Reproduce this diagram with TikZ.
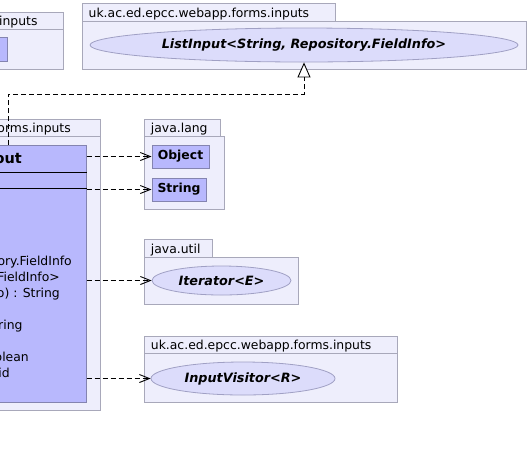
\documentclass[tikz,border=0pt]{standalone}
\usepackage{fontspec}
\setmainfont{DejaVu Sans}
\usetikzlibrary{arrows.meta,shapes.geometric}
\definecolor{pkgfill}{HTML}{EEEEFC}
\definecolor{pkgdraw}{HTML}{A8A8BA}
\definecolor{classfill}{HTML}{B8B8FD}
\definecolor{classdraw}{HTML}{8484B0}
\definecolor{ellfill}{HTML}{DCDCFB}
\definecolor{elldraw}{HTML}{A0A0C4}
\begin{document}
\begin{tikzpicture}[x=1pt,y=-1pt,
  font=\fontsize{12.4}{14}\selectfont,
  pkg/.style={fill=pkgfill,draw=pkgdraw,line width=1pt},
  cls/.style={rectangle,fill=classfill,draw=classdraw,line width=1pt,inner sep=0,
    font=\fontsize{12.4}{14}\selectfont\bfseries},
  iface/.style={ellipse,fill=ellfill,draw=elldraw,line width=0.8pt,inner sep=0,
    font=\fontsize{12.8}{14}\selectfont\bfseries\itshape},
  lbl/.style={inner sep=0,anchor=base west},
  rlbl/.style={inner sep=0,anchor=base east},
  dep/.style={draw=black,line width=0.9pt,dash pattern=on 5pt off 3pt,
    -{Straight Barb[length=10pt,width=8pt,line width=0.9pt]}},
  real/.style={draw=black,line width=0.9pt,dash pattern=on 5pt off 3pt,
    -{Triangle[length=15pt,width=13pt,fill=white,line width=0.9pt]}}]
\useasboundingbox (0,0) rectangle (529,448);
\clip (0,0) rectangle (529,448);
\fill[white] (0,0) rectangle (529,448);

% top-left package (clipped)
\draw[pkg] (-60,12) rectangle (63,29);
\draw[pkg] (-60,29) rectangle (63,69);
\node[rlbl] (pkgA) at (37.7,25) {inputs};
\node[cls,minimum width=67pt,minimum height=24pt] (boxA) at (-26.5,49) {};

% top-right package
\draw[pkg] (82,3) rectangle (335,21);
\draw[pkg] (82,21) rectangle (526,69);
\node[lbl] (pkgB) at (88.5,17) {uk.ac.ed.epcc.webapp.forms.inputs};
\node[iface,minimum width=428pt,minimum height=34pt] (list) at (304,45)
  {ListInput<String, Repository.FieldInfo>};

% main package (clipped)
\draw[pkg] (-60,119) rectangle (100,136);
\draw[pkg] (-60,136) rectangle (100,410);
\node[rlbl] (pkgM) at (71,132) {orms.inputs};
\node[cls,minimum width=206pt,minimum height=257pt] (main) at (-17,273.5) {};
\draw[black,line width=1pt] (main.west |- 0,172) -- (main.east |- 0,172);
\draw[black,line width=1pt] (main.west |- 0,188) -- (main.east |- 0,188);
\node[rlbl,font=\fontsize{14.5}{16}\selectfont\bfseries] (title) at (22,163) {out};
\node[rlbl] (m1) at (72,265) {ory.FieldInfo};
\node[rlbl] (m2) at (60,281) {FieldInfo>};
\node[rlbl] (m3) at (60,297) {o) : String};
\node[rlbl] (m4) at (22.7,329) {ring};
\node[rlbl] (m5) at (29,361) {olean};
\node[rlbl] (m6) at (10,377) {id};

% java.lang
\draw[pkg] (144,119) rectangle (220,136);
\draw[pkg] (144,136) rectangle (224,209);
\node[lbl] (pkgL) at (150.7,132) {java.lang};
\node[cls,minimum width=57pt,minimum height=23pt] (obj) at (180.5,156.5) {Object};
\node[cls,minimum width=54pt,minimum height=23pt] (str) at (179,189.5) {String};

% java.util
\draw[pkg] (144,239) rectangle (212,257);
\draw[pkg] (144,257) rectangle (298,304);
\node[lbl] (pkgU) at (150.7,253) {java.util};
\node[iface,minimum width=139pt,minimum height=29pt] (iter) at (221.5,280.5) {Iterator<E>};

% visitor package
\draw[pkg] (144,336) rectangle (397,353);
\draw[pkg] (144,353) rectangle (397,402);
\node[lbl] (pkgV) at (150.7,349) {uk.ac.ed.epcc.webapp.forms.inputs};
\node[iface,minimum width=184pt,minimum height=33pt] (vis) at (243,378.5) {InputVisitor<R>};

% connectors
\coordinate (up) at (8,145);
\coordinate (turn) at (304,94);
\draw[real] (up) |- (turn) -- (list.south);
\draw[dep] (main.east |- obj.west) -- (obj.west);
\draw[dep] (main.east |- str.west) -- (str.west);
\draw[dep] (main.east |- iter.west) -- (iter.west);
\draw[dep] (main.east |- vis.west) -- (vis.west);
\end{tikzpicture}
\end{document}
